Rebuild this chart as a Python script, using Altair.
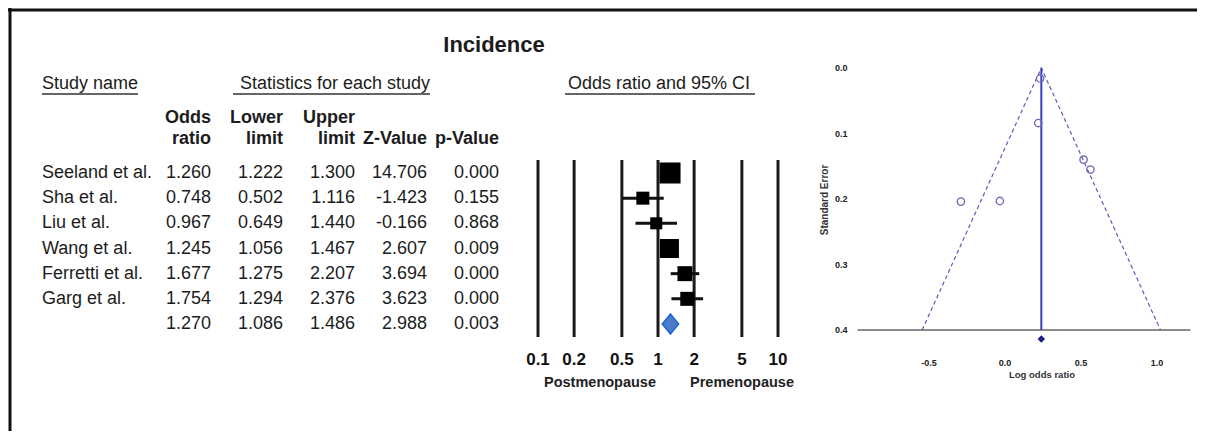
import altair as alt
import pandas as pd

# ---------------- data ----------------
studies = ["Seeland et al.", "Sha et al.", "Liu et al.", "Wang et al.", "Ferretti  et al.", "Garg et al."]
odds_ratio = [1.260, 0.748, 0.967, 1.245, 1.677, 1.754]
lower_limit = [1.222, 0.502, 0.649, 1.056, 1.275, 1.294]
upper_limit = [1.300, 1.116, 1.440, 1.467, 2.207, 2.376]
z_value = [14.706, -1.423, -0.166, 2.607, 3.694, 3.623]
p_value = [0.000, 0.155, 0.868, 0.009, 0.000, 0.000]
weights = [28.7, 11.0, 9.4, 23.5, 14.6, 12.8]

overall_key = "Overall"
overall_or = 1.270
overall_lower = 1.086
overall_upper = 1.486
overall_z = 2.988
overall_p = 0.003

forest_ticks = [0.1, 0.2, 0.5, 1, 2, 5, 10]
forest_tick_labels = ["0.1", "0.2", "0.5", "1", "2", "5", "10"]

funnel_log_or = [0.231, -0.290, -0.034, 0.219, 0.517, 0.562]
funnel_se = [0.016, 0.204, 0.203, 0.084, 0.140, 0.155]
funnel_pooled = 0.239
funnel_limit_x = [-0.545, 0.239, 1.023]
funnel_limit_se = [0.4, 0.0, 0.4]
funnel_x_ticks = [-0.5, 0.0, 0.5, 1.0]
funnel_x_labels = ["-0.5", "0.0", "0.5", "1.0"]
funnel_y_ticks = [0.0, 0.1, 0.2, 0.3, 0.4]
funnel_y_labels = ["0.0", "0.1", "0.2", "0.3", "0.4"]
funnel_axis_extent = [-0.97, 1.22]

table_cols = ["or", "lo", "hi", "z", "p"]
header_top = ["Odds", "Lower", "Upper", "", ""]
header_bottom = ["ratio", "limit", "limit", "Z-Value", "p-Value"]

# ---------------- tables built from the arrays ----------------
rows = studies + [overall_key]
names = studies + [""]
col_values = {
    "or": odds_ratio + [overall_or],
    "lo": lower_limit + [overall_lower],
    "hi": upper_limit + [overall_upper],
    "z": z_value + [overall_z],
    "p": p_value + [overall_p],
}
table_long = pd.DataFrame(
    [{"row": r, "col": c, "txt": f"{col_values[c][i]:.3f}"} for i, r in enumerate(rows) for c in table_cols]
)
names_df = pd.DataFrame({"row": rows, "name": names, "col": ["name"] * len(rows)})
hdr_df = pd.DataFrame({"col": table_cols, "top": header_top, "bottom": header_bottom})

forest_df = pd.DataFrame({"row": studies, "odds": odds_ratio, "lower": lower_limit,
                          "upper": upper_limit, "weight": weights})
overall_df = pd.DataFrame({"row": [overall_key], "odds": [overall_or]})
ftick_df = pd.DataFrame({"tick": forest_ticks, "label": forest_tick_labels})

fun_pts = pd.DataFrame({"lor": funnel_log_or, "se": funnel_se})
fun_lim = pd.DataFrame({"lor": funnel_limit_x, "se": funnel_limit_se, "i": list(range(len(funnel_limit_x)))})
fun_pool = pd.DataFrame({"lor": [funnel_pooled], "se0": [funnel_y_ticks[0]], "se1": [funnel_y_ticks[-1]]})
fun_axis = pd.DataFrame({"x0": [funnel_axis_extent[0]], "x1": [funnel_axis_extent[1]], "se": [funnel_y_ticks[-1]]})
fun_xt = pd.DataFrame({"lor": funnel_x_ticks, "label": funnel_x_labels, "se": [funnel_y_ticks[-1]] * len(funnel_x_ticks)})
fun_yt = pd.DataFrame({"se": funnel_y_ticks, "label": funnel_y_labels, "lor": [funnel_axis_extent[0]] * len(funnel_y_ticks)})

# ---------------- scales ----------------
FONT = "Liberation Sans"
INK = "#1c1c1c"
ROW_Y = alt.Scale(type="point", domain=rows, range=[165, 316], padding=0)
TAB_X = alt.Scale(type="point", domain=table_cols, range=[203, 491], padding=0)
NAME_X = alt.Scale(type="point", domain=["name"], range=[34, 34], padding=0)
FOREST_X = alt.Scale(type="log", domain=[0.1, 10], range=[530, 770], nice=False)
FUN_X = alt.Scale(domain=[-1, 1.25], range=[845, 1187], zero=False, nice=False)
FUN_Y = alt.Scale(domain=[0, 0.4], range=[60, 322], zero=False, nice=False)


def text_at(txt, x, y, size, bold=False, align="center", angle=0, color=INK):
    kw = dict(text=txt, fontSize=size, fontWeight="bold" if bold else "normal", align=align,
              baseline="middle", font=FONT, color=color)
    if angle:
        kw["angle"] = angle
    return alt.Chart(pd.DataFrame({"k": [0]})).mark_text(**kw).encode(x=alt.value(x), y=alt.value(y))


def hline(x0, x1, y, width=1.5, color="#333"):
    return alt.Chart(pd.DataFrame({"k": [0]})).mark_rule(color=color, strokeWidth=width).encode(
        x=alt.value(x0), x2=alt.value(x1), y=alt.value(y))


layers = []

# frame (top and left edges; the right/bottom are cropped in the reference)
layers.append(alt.Chart(pd.DataFrame({"k": [0]})).mark_rule(color="#111", strokeWidth=3).encode(
    x=alt.value(2), y=alt.value(0), y2=alt.value(423)))
layers.append(alt.Chart(pd.DataFrame({"k": [0]})).mark_rule(color="#111", strokeWidth=3).encode(
    x=alt.value(0), x2=alt.value(1189), y=alt.value(2)))

# title and headings
layers.append(text_at("Incidence", 486, 37, 22, bold=True))
layers.append(text_at("Study name", 34, 76, 18, align="left"))
layers.append(text_at("Statistics for each study", 422, 76, 18, align="right"))
layers.append(text_at("Odds ratio and 95% CI", 651, 76, 18))
layers.append(hline(34, 130, 86))
layers.append(hline(225, 422, 86))
layers.append(hline(557, 747, 86))

# table
layers.append(alt.Chart(hdr_df).mark_text(fontSize=18, fontWeight="bold", align="right", baseline="middle",
                                          font=FONT, color=INK).encode(
    x=alt.X("col:N", scale=TAB_X, axis=None), y=alt.value(110), text="top:N"))
layers.append(alt.Chart(hdr_df).mark_text(fontSize=18, fontWeight="bold", align="right", baseline="middle",
                                          font=FONT, color=INK).encode(
    x=alt.X("col:N", scale=TAB_X, axis=None), y=alt.value(131), text="bottom:N"))
layers.append(alt.Chart(names_df).mark_text(fontSize=18, align="left", baseline="middle", font=FONT,
                                            color=INK).encode(
    x=alt.X("col:N", scale=NAME_X, axis=None), y=alt.Y("row:N", scale=ROW_Y, axis=None), text="name:N"))
layers.append(alt.Chart(table_long).mark_text(fontSize=18, align="right", baseline="middle", font=FONT,
                                              color=INK).encode(
    x=alt.X("col:N", scale=TAB_X, axis=None), y=alt.Y("row:N", scale=ROW_Y, axis=None), text="txt:N"))

# forest plot
layers.append(alt.Chart(ftick_df).mark_rule(color="#1a1a1a", strokeWidth=3).encode(
    x=alt.X("tick:Q", scale=FOREST_X, axis=None), y=alt.value(152), y2=alt.value(329)))
layers.append(alt.Chart(ftick_df).mark_text(fontSize=17, fontWeight="bold", baseline="middle", font=FONT,
                                            color="#111").encode(
    x=alt.X("tick:Q", scale=FOREST_X, axis=None), y=alt.value(352), text="label:N"))
layers.append(alt.Chart(forest_df).mark_rule(color="#111", strokeWidth=3).encode(
    x=alt.X("lower:Q", scale=FOREST_X, axis=None), x2="upper:Q",
    y=alt.Y("row:N", scale=ROW_Y, axis=None)))
layers.append(alt.Chart(forest_df).mark_point(shape="square", filled=True, color="#000", opacity=1,
                                              strokeWidth=0).encode(
    x=alt.X("odds:Q", scale=FOREST_X, axis=None), y=alt.Y("row:N", scale=ROW_Y, axis=None),
    size=alt.Size("weight:Q", scale=alt.Scale(domain=[0, 30], range=[0, 461]), legend=None)))
layers.append(alt.Chart(overall_df).mark_point(shape="M0,-1.1L0.9,0L0,1.1L-0.9,0Z", filled=True,
                                               fill="#4a7cc7", stroke="#1f66d6", strokeWidth=1.5,
                                               size=330, opacity=1).encode(
    x=alt.X("odds:Q", scale=FOREST_X, axis=None), y=alt.Y("row:N", scale=ROW_Y, axis=None)))
layers.append(text_at("Postmenopause", 592, 375, 14.5, bold=True, color="#222"))
layers.append(text_at("Premenopause", 734, 375, 14.5, bold=True, color="#222"))

# funnel plot
layers.append(alt.Chart(fun_axis).mark_rule(color="#666", strokeWidth=1.5).encode(
    x=alt.X("x0:Q", scale=FUN_X, axis=None), x2="x1:Q", y=alt.Y("se:Q", scale=FUN_Y, axis=None)))
layers.append(alt.Chart(fun_lim).mark_line(color="#5b5bbf", strokeWidth=1.2, strokeDash=[4, 3]).encode(
    x=alt.X("lor:Q", scale=FUN_X, axis=None), y=alt.Y("se:Q", scale=FUN_Y, axis=None), order="i:Q"))
layers.append(alt.Chart(fun_pool).mark_rule(color="#3c3cc8", strokeWidth=2).encode(
    x=alt.X("lor:Q", scale=FUN_X, axis=None), y=alt.Y("se0:Q", scale=FUN_Y, axis=None), y2="se1:Q"))
layers.append(alt.Chart(fun_pts).mark_point(shape="circle", filled=False, color="#6b6bb5", strokeWidth=1.3,
                                            size=55, opacity=1).encode(
    x=alt.X("lor:Q", scale=FUN_X, axis=None), y=alt.Y("se:Q", scale=FUN_Y, axis=None)))
layers.append(alt.Chart(fun_pool).mark_point(shape="diamond", filled=True, color="#1c1c8c", size=55,
                                             opacity=1, yOffset=9).encode(
    x=alt.X("lor:Q", scale=FUN_X, axis=None), y=alt.Y("se1:Q", scale=FUN_Y, axis=None)))
layers.append(alt.Chart(fun_xt).mark_text(fontSize=9, fontWeight="bold", baseline="middle", dy=33,
                                          font=FONT, color="#222").encode(
    x=alt.X("lor:Q", scale=FUN_X, axis=None), y=alt.Y("se:Q", scale=FUN_Y, axis=None), text="label:N"))
layers.append(alt.Chart(fun_yt).mark_text(fontSize=9, fontWeight="bold", baseline="middle", align="right",
                                          dx=-10, font=FONT, color="#222").encode(
    x=alt.X("lor:Q", scale=FUN_X, axis=None), y=alt.Y("se:Q", scale=FUN_Y, axis=None), text="label:N"))
layers.append(text_at("Standard Error", 817, 192, 10, bold=True, angle=270, color="#333"))
layers.append(text_at("Log odds ratio", 1034, 367, 9.5, bold=True, color="#333"))

chart = alt.layer(*layers).resolve_scale(
    x="independent", y="independent", size="independent"
).properties(
    width=1189, height=423, padding=0, autosize=alt.AutoSizeParams(type="none"), background="white"
).configure_view(stroke=None)

chart.save("out.html", embed_options={"renderer": "svg", "actions": False})
